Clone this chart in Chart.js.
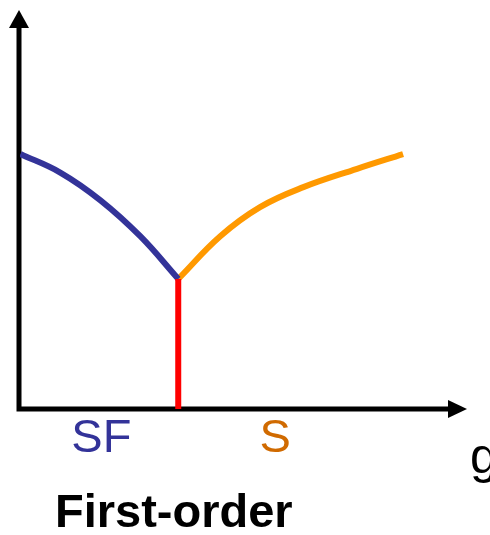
<!DOCTYPE html>
<html>
<head>
<meta charset="utf-8">
<script src="https://cdn.jsdelivr.net/npm/chart.js@4"></script>
<style>
  html, body { margin: 0; padding: 0; background: #fff; }
  #wrap { width: 490px; height: 535px; }
</style>
</head>
<body>
<div id="wrap"><canvas id="phase" width="490" height="535"></canvas></div>
<script>
// superfluid branch (left of the transition)
const gSF = [0.1, 9.1, 18.0, 26.9, 35.4];
const eSF = [63.9, 59.2, 52.3, 43.3, 32.6];
// solid branch (right of the transition)
const gS = [35.4, 44.8, 53.7, 63.4, 75.4, 85.7];
const eS = [32.6, 43.3, 50.6, 55.6, 60.2, 63.9];
// jump at g_c
const gc = 35.4;
const jump = [0, 32.6];

const phaseNames = ['SF', 'S'];
const phaseAt = [18.2, 57.1];
const phaseColors = ['#333399', '#D06A00'];
const axisName = 'g';
const caption = 'First-order';

const toPts = (xs, ys) => xs.map((x, i) => ({ x: x, y: ys[i] }));

// axes with arrowheads + text labels
const sketchAxes = {
  id: 'sketchAxes',
  beforeDatasetsDraw(chart) {
    const ctx = chart.ctx;
    const a = chart.chartArea;
    const x0 = chart.scales.x.getPixelForValue(0) - 1;
    const y0 = chart.scales.y.getPixelForValue(0);
    ctx.save();
    ctx.fillStyle = '#000';
    ctx.strokeStyle = '#000';
    ctx.lineWidth = 5;
    ctx.beginPath();
    ctx.moveTo(x0, y0 + 2.5);
    ctx.lineTo(x0, a.top + 15);
    ctx.moveTo(x0 - 2.5, y0);
    ctx.lineTo(a.right - 16, y0);
    ctx.stroke();
    // y arrow
    ctx.beginPath();
    ctx.moveTo(x0, a.top);
    ctx.lineTo(x0 - 10, a.top + 18);
    ctx.lineTo(x0 + 10, a.top + 18);
    ctx.closePath();
    ctx.fill();
    // x arrow
    ctx.beginPath();
    ctx.moveTo(a.right, y0);
    ctx.lineTo(a.right - 19, y0 - 9);
    ctx.lineTo(a.right - 19, y0 + 9);
    ctx.closePath();
    ctx.fill();
    ctx.restore();
  },
  afterDraw(chart) {
    const ctx = chart.ctx;
    const y0 = chart.scales.y.getPixelForValue(0);
    ctx.save();
    ctx.textBaseline = 'alphabetic';
    ctx.font = '47px "Liberation Sans", Arial, sans-serif';
    ctx.textAlign = 'center';
    phaseNames.forEach((t, i) => {
      ctx.fillStyle = phaseColors[i];
      ctx.fillText(t, chart.scales.x.getPixelForValue(phaseAt[i]), y0 + 43);
    });
    ctx.fillStyle = '#000';
    ctx.textAlign = 'left';
    ctx.font = '50px "Liberation Sans", Arial, sans-serif';
    ctx.fillText(axisName, 470, y0 + 64);
    ctx.font = 'bold 47px "Liberation Sans", Arial, sans-serif';
    ctx.fillText(caption, 55, 527);
    ctx.restore();
  }
};

const line = (pts, color) => ({
  data: pts,
  borderColor: color,
  borderWidth: 6,
  borderCapStyle: 'butt',
  pointRadius: 0,
  tension: 0.4,
  fill: false
});

new Chart(document.getElementById('phase'), {
  type: 'line',
  data: {
    datasets: [
      line([{ x: gc, y: jump[0] }, { x: gc, y: jump[1] }], '#FF0000'),
      line(toPts(gSF, eSF), '#333399'),
      line(toPts(gS, eS), '#FF9900')
    ]
  },
  options: {
    responsive: false,
    animation: false,
    layout: { padding: { left: 20, top: 10, right: 23, bottom: 126 } },
    scales: {
      x: { type: 'linear', min: 0, max: 100, display: false },
      y: { min: 0, max: 100, display: false }
    },
    plugins: { legend: { display: false }, tooltip: { enabled: false } }
  },
  plugins: [sketchAxes]
});
</script>
</body>
</html>
